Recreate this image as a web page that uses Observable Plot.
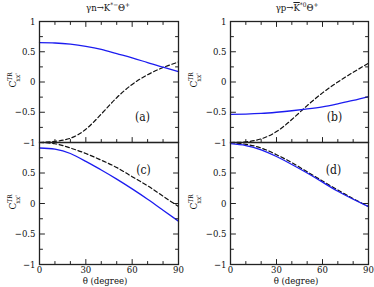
<!DOCTYPE html>
<html><head><meta charset="utf-8">
<script src="https://cdn.jsdelivr.net/npm/d3@7"></script>
<script src="https://cdn.jsdelivr.net/npm/@observablehq/plot@0.6"></script>
<style>
html,body{margin:0;padding:0;background:#fff;}
#c{position:relative;width:374px;height:287px;font-family:"DejaVu Serif Condensed","DejaVu Serif",serif;font-stretch:condensed;}
#c > div{position:absolute;}
#c text{font-stretch:condensed;}
</style></head>
<body><div id="c"></div>
<script>
// angles (degree)
const theta = [0, 10, 20, 30, 40, 50, 60, 70, 80, 90];
// panel (a): γn→K*−Θ+ upper
const aSolid = [0.65, 0.645, 0.625, 0.59, 0.54, 0.47, 0.40, 0.32, 0.245, 0.17];
const aDash  = [-1, -0.98, -0.93, -0.78, -0.53, -0.26, -0.04, 0.12, 0.24, 0.33];
// panel (b): γp→K̄*0Θ+ upper
const bSolid = [-0.535, -0.53, -0.52, -0.50, -0.475, -0.445, -0.41, -0.36, -0.305, -0.24];
const bDash  = [-1, -0.99, -0.94, -0.82, -0.62, -0.39, -0.18, 0.0, 0.16, 0.31];
// panel (c)
const cSolid = [0.91, 0.89, 0.82, 0.69, 0.55, 0.40, 0.24, 0.07, -0.11, -0.29];
const cDash  = [1, 0.98, 0.91, 0.82, 0.71, 0.59, 0.44, 0.29, 0.12, -0.05];
// panel (d)
const dSolid = [0.98, 0.95, 0.88, 0.77, 0.64, 0.50, 0.35, 0.20, 0.07, -0.05];
const dDash  = [1, 0.97, 0.91, 0.80, 0.67, 0.52, 0.37, 0.22, 0.08, -0.05];

const xMajor = [0, 30, 60, 90];
const xMinor = [10, 20, 40, 50, 70, 80];
const yMajor = [-1, -0.5, 0, 0.5, 1];
const yMinor = [-0.75, -0.25, 0.25, 0.75];
const yLabelsUpper = [-1, -0.5, 0, 0.5, 1];
const yLabelsLower = [-1, -0.5, 0, 0.5];
const panelLetters = ["(a)", "(b)", "(c)", "(d)"];

const BLUE = "#1c1cf0";
const FONT = "'DejaVu Serif Condensed','DejaVu Serif',serif";
const fmt = d => (d < 0 ? "\u2212" + Math.abs(d) : String(d));
const tickShape = {draw(ctx, l) { ctx.moveTo(0, 0); ctx.lineTo(0, -l); }};

function rows(ys) { return theta.map((t, i) => ({t, v: ys[i]})); }

function ticks(top, bottom) {
  const m = [];
  const vt = (data, frameAnchor, rotate, length) =>
    Plot.vector(data, {y: d => d, frameAnchor, rotate, length, anchor: "start", shape: tickShape, stroke: "#222", strokeWidth: 1});
  const ht = (data, frameAnchor, rotate, length) =>
    Plot.vector(data, {x: d => d, frameAnchor, rotate, length, anchor: "start", shape: tickShape, stroke: "#222", strokeWidth: 1});
  m.push(vt(yMajor, "left", 90, 5), vt(yMinor, "left", 90, 3));
  m.push(vt(yMajor, "right", -90, 5), vt(yMinor, "right", -90, 3));
  if (bottom) m.push(ht(xMajor, "bottom", 0, 5), ht(xMinor, "bottom", 0, 3));
  if (top) m.push(ht(xMajor, "top", 180, 5), ht(xMinor, "top", 180, 3));
  return m;
}

function panel({left, top, width, height, ml, mr, mt, mb, solid, dash, upper, letter, lx, ly}) {
  const marks = [
    Plot.line(rows(dash), {x: "t", y: "v", stroke: "#111", strokeWidth: 1.2, strokeDasharray: "4,2.6", curve: "natural"}),
    Plot.line(rows(solid), {x: "t", y: "v", stroke: BLUE, strokeWidth: 1.3, curve: "natural"}),
    ...ticks(upper, true),
    Plot.frame({stroke: "#222", strokeWidth: 1.3}),
    Plot.axisY({anchor: "left", ticks: upper ? yLabelsUpper : yLabelsLower, tickSize: 0, tickPadding: 4, tickFormat: fmt, fontSize: 9.5, label: null}),
    Plot.text([letter], {text: d => d, frameAnchor: upper ? "bottom-right" : "top-right", dx: lx, dy: ly, textAnchor: "middle", lineAnchor: "middle", fontSize: 12, fill: "#111"})
  ];
  if (!upper) marks.push(Plot.axisX({anchor: "bottom", ticks: xMajor, tickSize: 0, tickPadding: 2, tickFormat: d => String(d), fontSize: 9.5, label: null}));
  const p = Plot.plot({
    width, height, marginLeft: ml, marginRight: mr, marginTop: mt, marginBottom: mb,
    x: {domain: [0, 90], axis: upper ? null : undefined},
    y: {domain: [-1, 1], axis: null},
    style: {fontFamily: FONT, background: "none", overflow: "visible", color: "#111"},
    marks
  });
  const div = document.createElement("div");
  div.style.left = left + "px"; div.style.top = top + "px";
  div.appendChild(p);
  document.getElementById("c").appendChild(div);
}

panel({left: 0, top: 0, width: 187, height: 142, ml: 39, mr: 9, mt: 21, mb: 0, solid: aSolid, dash: aDash, upper: true, letter: panelLetters[0], lx: -36, ly: -25});
panel({left: 187, top: 0, width: 187, height: 142, ml: 43, mr: 6, mt: 21, mb: 0, solid: bSolid, dash: bDash, upper: true, letter: panelLetters[1], lx: -34, ly: -25});
panel({left: 0, top: 142, width: 187, height: 145, ml: 39, mr: 9, mt: 0, mb: 23, solid: cSolid, dash: cDash, upper: false, letter: panelLetters[2], lx: -35, ly: 28});
panel({left: 187, top: 142, width: 187, height: 145, ml: 43, mr: 6, mt: 0, mb: 23, solid: dSolid, dash: dDash, upper: false, letter: panelLetters[3], lx: -35, ly: 28});

// annotations overlay
const svg = d3.select("#c").append("div").style("left", "0px").style("top", "0px").style("pointer-events", "none")
  .append("svg").attr("width", 374).attr("height", 287)
  .style("font-family", FONT).style("overflow", "visible").style("display", "block");

function title(x, y, parts) {
  const t = svg.append("text").attr("x", x).attr("y", y).attr("text-anchor", "middle").attr("font-size", 9.5).attr("fill", "#111");
  parts.forEach(p => {
    const s = t.append("tspan").text(p.s);
    if (p.sup) s.attr("font-size", 6.5).attr("dy", -4.5);
    if (p.down) s.attr("dy", 4.5);
    if (p.over) s.style("text-decoration", "overline");
  });
}
title(108, 11, [{s: "\u03b3n\u2192K"}, {s: "*\u2212", sup: true}, {s: "\u0398", down: true}, {s: "+", sup: true}]);
title(297, 11, [{s: "\u03b3p\u2192"}, {s: "K", over: true}, {s: "*0", sup: true}, {s: "\u0398", down: true}, {s: "+", sup: true}]);

function ylab(x, y) {
  const t = svg.append("text").attr("transform", `translate(${x},${y}) rotate(-90)`).attr("text-anchor", "middle").attr("font-size", 10).attr("fill", "#111");
  t.append("tspan").text("C");
  t.append("tspan").text("TR").attr("font-size", 6.5).attr("dy", -4.5);
  t.append("tspan").text("xx'").attr("font-size", 6.5).attr("dx", -9).attr("dy", 8);
}
ylab(16, 80); ylab(16, 202); ylab(197, 80); ylab(197, 202);

function xlab(x, y) {
  svg.append("text").attr("x", x).attr("y", y).attr("text-anchor", "middle").attr("font-size", 9.5).attr("fill", "#111").text("\u03b8  (degree)");
}
xlab(105, 284); xlab(296, 284);
</script>
</body></html>
